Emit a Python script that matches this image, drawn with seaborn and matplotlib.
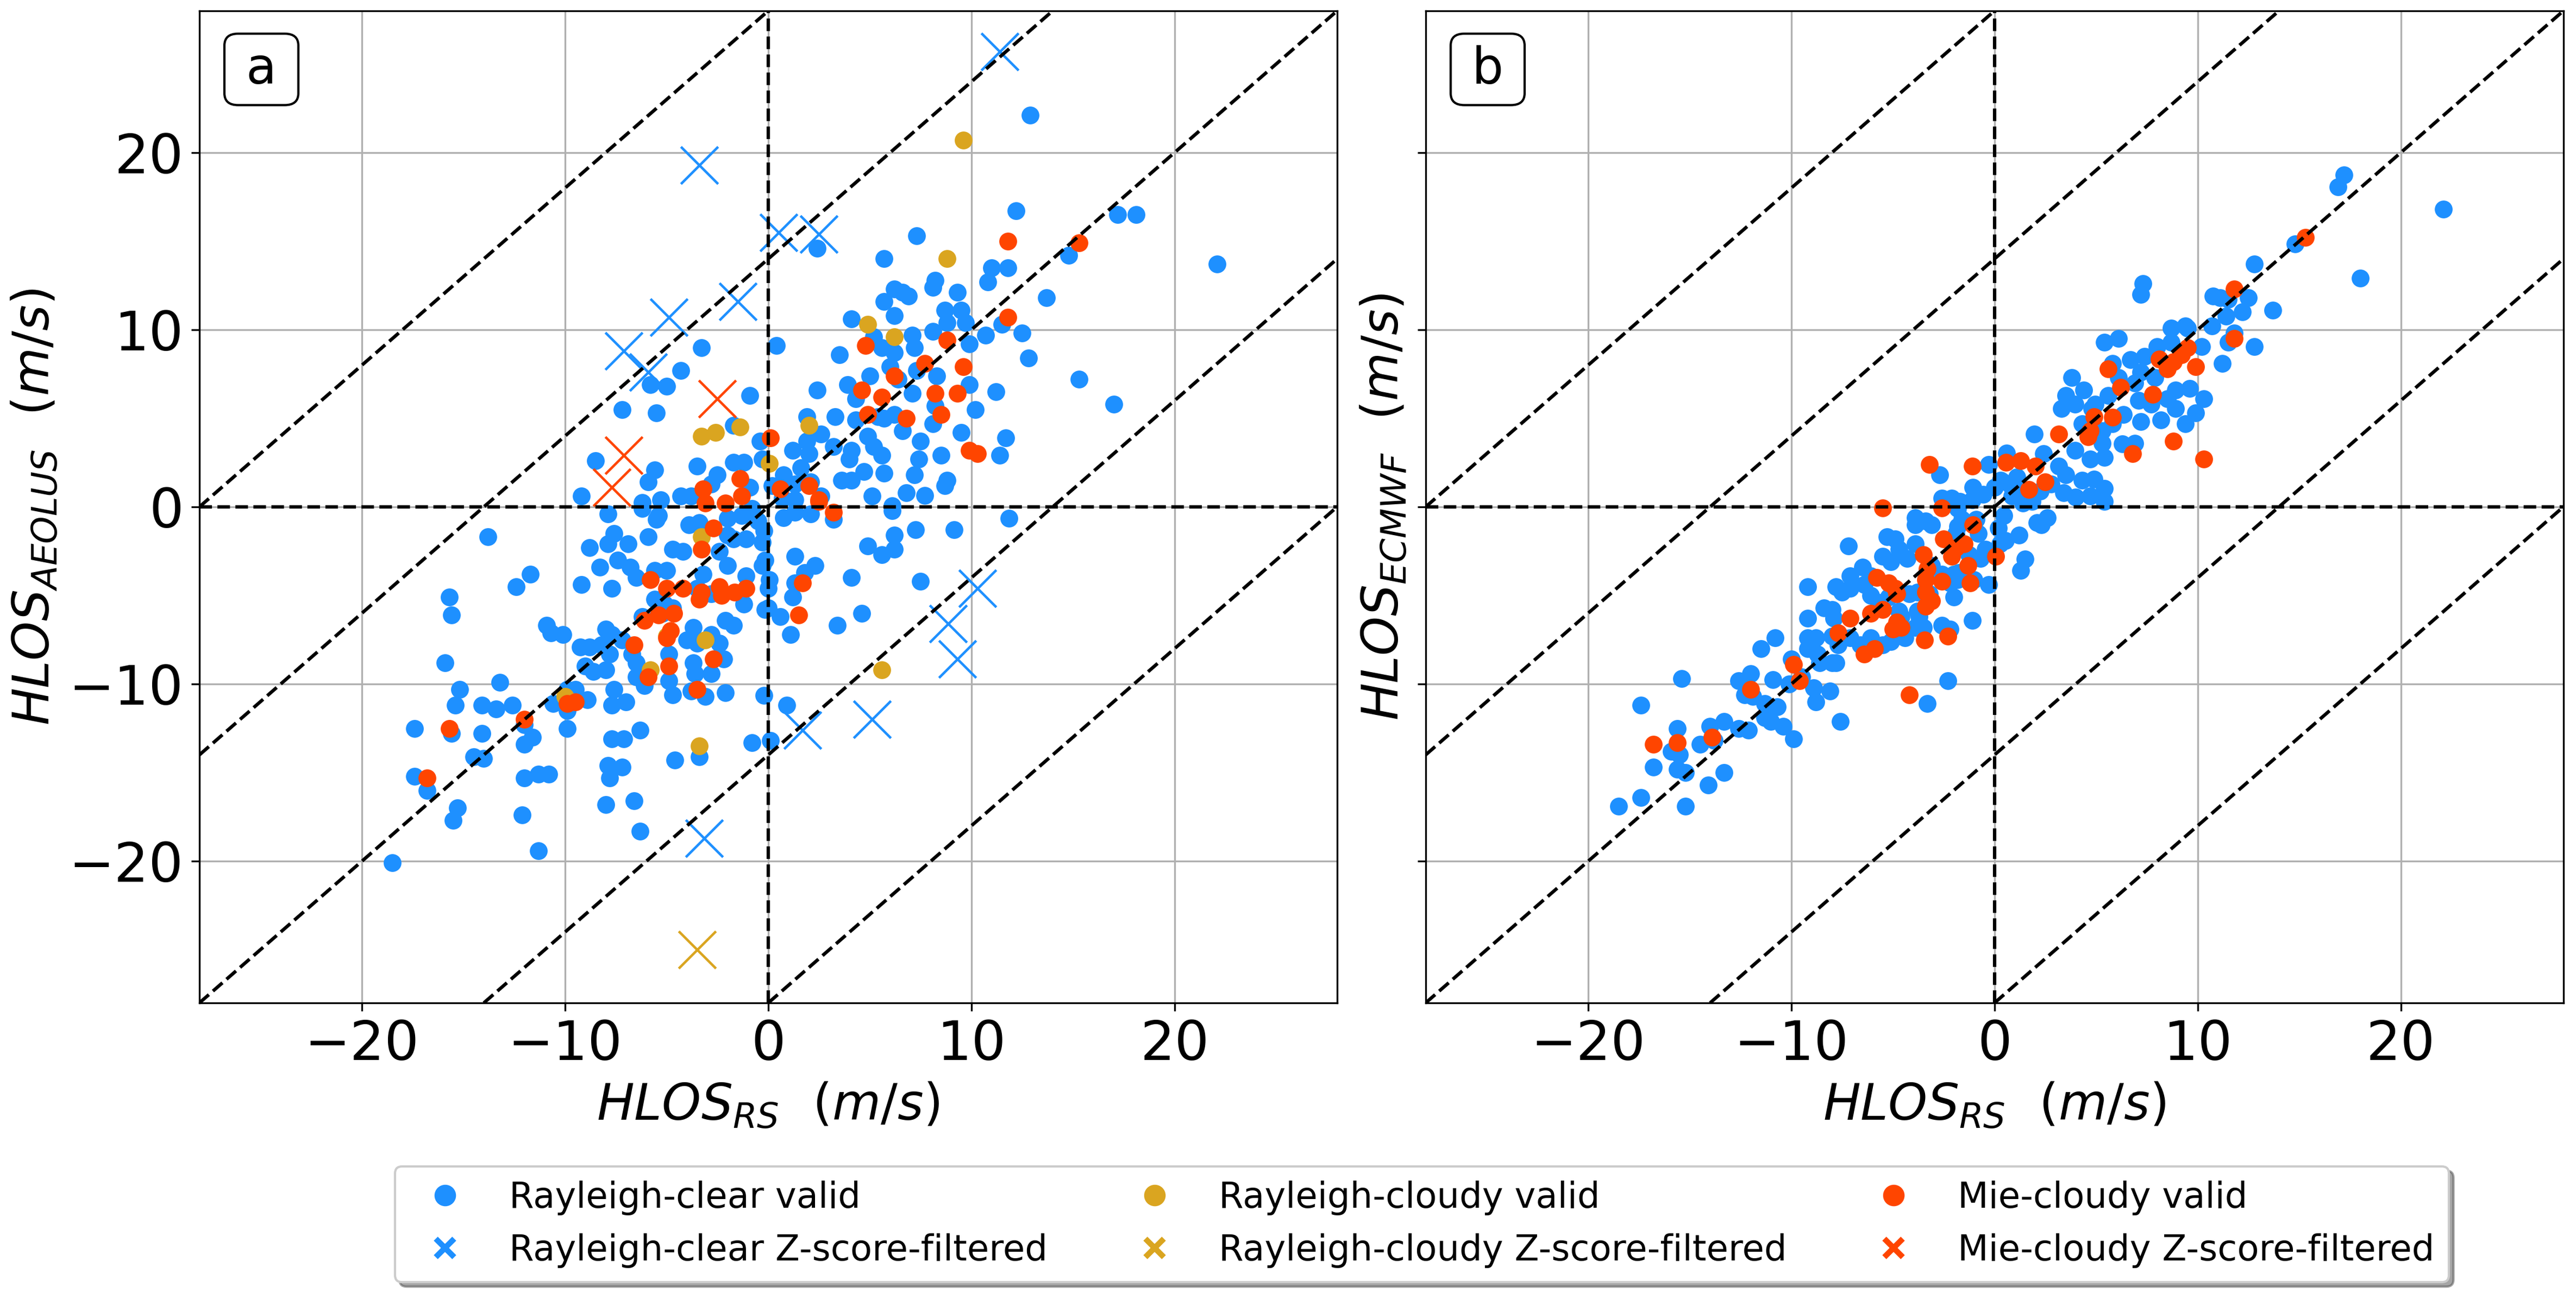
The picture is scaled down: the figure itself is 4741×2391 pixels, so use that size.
import numpy as np
import pandas as pd
import matplotlib
matplotlib.use("Agg")
import matplotlib.pyplot as plt
import matplotlib.patches as mpatches
from matplotlib.lines import Line2D
import seaborn as sns

# ---------------- data ----------------
# Panel a : HLOS_RS (x) vs HLOS_AEOLUS (y)
a_clear_valid = [
    (-3.3, 9.0), (0.4, 9.1), (-4.3, 7.7), (-5.8, 6.9), (-5.0, 6.8), (-0.9, 6.3), (-7.2, 5.5), (-5.5, 5.3),
    (-1.7, 4.6), (-0.4, 3.7), (-8.5, 2.6), (-3.5, 2.3), (-5.6, 2.1), (-5.9, 1.4), (-1.7, 2.5), (-1.2, 2.5),
    (-0.3, 2.7), (-9.2, 0.6), (-2.5, 1.8), (-2.8, 1.3), (-0.9, 1.1), (-4.3, 0.6), (-3.8, 0.6), (-6.2, 0.25),
    (-5.3, 0.4),
    (12.9, 22.1), (12.2, 16.7), (17.2, 16.5), (18.1, 16.5), (7.3, 15.3), (2.4, 14.6), (5.7, 14.0), (22.1, 13.7),
    (14.8, 14.2), (11.0, 13.5), (11.8, 13.5), (8.2, 12.8), (8.1, 12.4), (10.8, 12.7), (6.2, 12.3), (6.6, 12.1),
    (6.9, 11.9), (5.7, 11.6), (9.3, 12.1), (13.7, 11.8), (8.7, 11.1), (9.5, 11.1), (6.2, 10.8), (4.1, 10.6),
    (9.7, 10.4), (8.8, 10.4), (8.1, 9.9), (7.1, 9.7), (10.7, 9.7), (11.5, 10.3), (12.5, 9.8), (5.2, 9.6),
    (5.6, 9.0), (6.2, 8.7), (7.2, 9.0), (9.9, 9.2), (3.5, 8.6), (12.8, 8.4), (6.0, 7.9), (5.0, 7.4),
    (8.3, 7.4), (7.3, 7.7), (2.4, 6.6), (3.9, 6.9), (6.4, 7.2), (9.9, 6.9), (11.2, 6.5), (15.3, 7.2),
    (17.0, 5.8), (4.3, 6.1), (7.1, 6.4), (8.2, 5.7), (10.2, 5.5), (1.9, 5.1), (3.3, 5.1), (4.3, 4.9),
    (5.4, 5.1), (6.2, 5.2), (8.1, 4.7), (6.6, 4.3), (9.5, 4.2), (11.7, 3.9), (7.5, 3.7), (2.6, 4.1),
    (1.9, 3.7), (1.2, 3.2), (2.0, 3.0), (3.2, 3.4), (4.1, 3.2), (4.0, 2.7), (4.9, 4.0), (5.2, 3.4),
    (5.6, 2.9), (8.5, 2.9), (7.4, 2.7), (11.4, 2.9), (4.7, 2.0), (5.7, 1.9), (7.2, 1.8), (3.6, 1.5),
    (4.1, 1.5), (8.8, 1.5), (8.7, 1.2), (1.6, 2.2), (0.75, 1.8), (0.2, 1.2), (1.3, 1.3), (6.8, 0.8),
    (7.7, 0.65), (5.1, 0.6), (6.1, 0.07), (2.6, 0.6), (1.3, 0.4), (0.7, 0.5), (5.7, 5.0), (2.1, 1.4),
    (-13.8, -1.7), (-11.7, -3.8), (-12.4, -4.5), (-15.7, -5.1), (-15.6, -6.1), (-9.2, -4.4), (-8.3, -3.4),
    (-7.7, -4.6), (-8.8, -2.3), (-7.9, -2.1), (-7.6, -1.5), (-6.9, -2.1), (-5.9, -1.7), (-7.4, -3.0),
    (-6.8, -3.4), (-6.5, -4.0), (-5.6, -3.6), (-5.0, -3.6), (-4.7, -2.4), (-4.2, -2.5), (-3.9, -1.0),
    (-6.2, -0.1), (-5.4, -0.5), (-7.9, -0.4), (-2.0, -0.65), (-1.3, -0.5), (-0.5, -0.8), (-1.7, -1.8),
    (-1.1, -1.8), (-0.3, -3.3), (-0.15, -3.0), (-0.3, -2.0), (-2.0, -3.3), (-1.1, -3.9), (0.0, -4.6),
    (-3.2, -3.8), (-3.5, -4.6), (-2.8, -4.9), (-1.2, -5.5), (-0.15, -5.8), (0.6, -6.2), (1.1, -7.2),
    (1.3, -2.8), (1.3, -4.3), (-2.1, -6.4), (-1.7, -6.7), (-3.7, -6.8), (-4.0, -7.5), (-3.5, -7.7),
    (-2.8, -7.2), (-2.4, -7.7), (-5.1, -5.5), (-4.7, -5.7), (-5.2, -6.0), (-6.2, -6.2), (-10.9, -6.7),
    (-10.7, -7.1), (-10.1, -7.2), (-8.0, -6.9), (-7.7, -7.2), (-7.2, -7.5), (-9.25, -7.9), (-8.8, -7.9),
    (-8.2, -7.8), (-7.8, -8.3), (-6.7, -8.3), (-6.5, -8.8), (-9.0, -9.0), (-8.6, -9.3), (-8.0, -9.2),
    (-6.5, -9.6), (-6.1, -10.1), (-4.9, -8.3), (-4.9, -9.8), (-3.7, -8.8), (-3.6, -9.4), (-2.8, -9.4),
    (-2.2, -8.6), (-4.7, -10.6), (-3.8, -10.4), (-3.1, -10.7), (-2.1, -10.5), (-0.2, -10.65), (0.9, -11.2),
    (-7.6, -10.3), (-7.0, -11.0), (-7.7, -11.2), (-8.9, -10.9), (-9.9, -10.3), (-9.5, -10.3), (-10.6, -11.1),
    (-9.9, -11.5), (-9.9, -12.5), (-13.2, -9.9), (-15.2, -10.3), (-15.4, -11.2), (-14.1, -11.2),
    (-13.4, -11.4), (-12.6, -11.2), (-15.9, -8.8), (-17.4, -12.5), (-15.6, -12.8), (-14.1, -12.8),
    (-12.0, -12.3), (-11.6, -13.0), (-12.0, -13.4), (-14.5, -14.1), (-14.0, -14.2), (-17.4, -15.2),
    (-16.8, -16.0), (-15.3, -17.0), (-15.5, -17.7), (-12.0, -15.3), (-11.3, -15.1), (-10.8, -15.1),
    (-12.1, -17.4), (-11.3, -19.4), (-18.5, -20.1), (-7.7, -13.1), (-7.1, -13.1), (-6.3, -12.6),
    (-7.9, -14.6), (-7.8, -15.3), (-7.2, -14.7), (-8.0, -16.8), (-6.6, -16.6), (-6.3, -18.3),
    (-4.6, -14.3), (-3.4, -14.1), (-0.8, -13.3), (0.1, -13.2),
    (-0.2, -1.35), (-2.0, -1.6), (-2.4, -2.5), (-3.4, -0.9), (-0.8, -0.1), (0.05, -4.1), (-5.6, -5.2),
    (-5.5, -0.7),
    (11.85, -0.65), (7.25, -1.3), (9.15, -1.3), (6.2, -1.6), (6.2, -2.4), (5.6, -2.7), (4.9, -2.2),
    (6.1, -0.2), (3.2, -0.7), (2.1, -0.4), (1.3, -0.3), (0.75, -0.6), (2.3, -3.3), (1.8, -3.7),
    (4.1, -4.0), (7.5, -4.2), (1.2, -5.1), (0.0, -5.7), (3.4, -6.7), (4.6, -6.0),
]
a_clear_filtered = [
    (-3.4, 19.3), (0.5, 15.5), (-1.5, 11.6), (-4.9, 10.7), (-7.1, 8.8), (-5.9, 7.6), (11.4, 25.7),
    (2.5, 15.4), (-3.15, -18.7), (10.3, -4.6), (8.85, -6.6), (9.3, -8.6), (5.1, -12.0), (1.7, -12.6),
]
a_cloudy_valid = [
    (-3.3, 4.0), (-2.6, 4.2), (-1.4, 4.5), (0.05, 2.45), (9.6, 20.7), (8.8, 14.0), (4.9, 10.3), (6.2, 9.6),
    (2.0, 4.6), (-3.3, -1.7), (-3.1, -7.5), (-5.8, -9.2), (-10.0, -10.7), (-5.0, -7.3), (-3.4, -13.5),
    (5.6, -9.2),
]
a_cloudy_filtered = [(-3.5, -25.0)]
a_mie_valid = [
    (0.1, 3.9), (-1.4, 1.6), (-3.2, 1.0), (-1.3, 0.6), (0.6, 1.0), (-2.1, 0.2), (-3.1, 0.2),
    (11.8, 15.0), (15.3, 14.9), (11.8, 10.7), (4.8, 9.1), (8.8, 9.4), (7.7, 8.1), (9.6, 7.9), (6.2, 7.4),
    (4.6, 6.6), (5.6, 6.2), (8.2, 6.4), (9.3, 6.4), (4.9, 5.2), (6.8, 5.0), (8.5, 5.2), (9.9, 3.2),
    (10.3, 3.0), (2.0, 1.2), (2.5, 0.4),
    (-2.7, -1.2), (-3.3, -2.4), (-5.8, -4.1), (-5.0, -4.6), (-4.2, -4.6), (-3.3, -4.8), (-3.4, -5.2),
    (-2.4, -4.5), (-2.3, -5.0), (-1.65, -4.8), (-1.1, -4.6), (-6.1, -6.4), (-5.4, -6.1), (-4.65, -6.0),
    (-4.8, -7.0), (-5.0, -7.4), (-6.6, -7.8), (-2.7, -8.6), (-4.9, -9.0), (-5.9, -9.6), (-3.5, -10.3),
    (-9.9, -11.1), (-9.5, -11.0), (-12.0, -12.0), (-15.7, -12.5), (-16.8, -15.3), (1.5, -6.1),
    (1.7, -4.3), (2.5, 0.3), (3.2, -0.3),
]
a_mie_filtered = [(-2.5, 6.1), (-7.1, 2.9), (-7.7, 1.1)]

# Panel b : HLOS_RS (x) vs HLOS_ECMWF (y)
b_clear_valid = [
    (-18.5, -16.9), (-17.4, -16.4), (-15.2, -16.9), (-14.1, -15.7), (-13.3, -15.0), (-16.8, -14.7),
    (-15.6, -14.8), (-15.2, -15.0), (-15.9, -13.8), (-15.5, -14.0), (-15.6, -12.5), (-17.4, -11.2),
    (-15.4, -9.7), (-14.5, -13.4), (-13.8, -13.2), (-14.0, -12.4), (-13.3, -12.1), (-12.6, -12.5),
    (-12.1, -12.6), (-12.6, -9.8), (-12.0, -9.4), (-12.3, -10.6), (-11.9, -10.7), (-11.5, -8.0),
    (-10.8, -7.4), (-10.9, -9.75), (-11.3, -11.9), (-11.0, -12.1), (-10.7, -11.3), (-10.4, -12.4),
    (-9.9, -13.1), (-11.3, -11.1), (-10.0, -8.6), (-9.5, -9.6), (-10.1, -10.0), (-8.9, -10.2),
    (-8.1, -10.4), (-8.8, -11.0), (-7.6, -12.1), (-9.2, -7.4), (-8.8, -7.4), (-9.2, -8.0), (-9.2, -6.3),
    (-9.2, -4.5), (-8.7, -8.3), (-8.6, -8.8), (-8.0, -8.8), (-7.8, -8.8), (-8.4, -5.7), (-8.0, -5.8),
    (-7.9, -6.3), (-7.8, -4.5), (-7.5, -4.8), (-7.1, -4.6), (-7.1, -3.9), (-6.5, -3.4), (-6.1, -3.9),
    (-7.2, -2.2), (-8.0, -7.3), (-7.7, -7.8), (-7.1, -7.4), (-6.6, -7.8), (-6.1, -7.4), (-5.5, -7.8),
    (-5.1, -7.6), (-4.4, -7.4), (-4.7, -6.8), (-3.9, -6.8), (-3.5, -6.8), (-2.6, -6.7), (-2.2, -6.9),
    (-6.1, -5.0), (-5.7, -5.4), (-6.4, -4.4), (-5.2, -5.1), (-4.7, -5.9), (-3.8, -5.9), (-5.5, -2.8),
    (-5.1, -3.1), (-4.7, -2.4), (-4.3, -2.9), (-3.9, -2.1), (-5.3, -1.7), (-4.9, -1.8), (-3.9, -0.6),
    (-3.9, -1.0), (-3.4, -0.8), (-3.1, -1.0), (-2.7, 1.8), (-2.6, 0.5), (-2.1, 0.5), (-1.8, -1.1),
    (-1.8, -0.1), (-1.8, -4.1), (-2.0, -5.1), (-1.1, -6.4), (-2.3, -9.8), (-3.3, -11.1), (-3.1, -3.3),
    (-2.6, -3.8), (-2.2, -4.3), (-3.8, -4.8), (-3.2, -4.9), (-4.2, -4.9),
    (17.2, 18.75), (16.9, 18.05), (22.1, 16.8), (14.8, 14.85), (12.8, 13.7), (18.0, 12.9), (7.3, 12.6),
    (7.2, 12.0), (13.7, 11.1), (10.75, 11.9), (11.1, 11.8), (11.5, 11.7), (12.5, 11.8), (12.2, 11.0),
    (11.4, 10.75), (10.7, 10.2), (8.7, 10.1), (9.4, 10.2), (9.5, 10.1), (11.8, 9.8), (11.5, 9.3),
    (12.8, 9.05), (10.2, 9.05), (11.2, 8.1), (5.4, 9.3), (6.1, 9.5), (8.0, 9.05), (8.7, 9.3), (5.8, 8.1),
    (6.7, 8.3), (7.4, 8.5), (3.8, 7.3), (4.4, 6.6), (3.5, 6.3), (3.3, 5.55), (3.97, 5.8), (4.95, 5.8),
    (5.6, 6.3), (6.1, 7.3), (6.9, 7.0), (7.2, 7.6), (7.9, 7.3), (7.1, 6.0), (7.7, 5.8), (8.5, 6.1),
    (8.9, 6.6), (9.6, 6.7), (10.3, 6.1), (9.9, 5.3), (8.9, 5.55), (8.2, 4.9), (7.2, 4.8), (9.4, 4.7),
    (6.35, 5.2), (5.8, 4.7), (5.3, 4.3), (4.3, 4.7), (4.8, 5.55), (1.96, 4.1), (6.9, 3.6), (6.3, 3.55),
    (5.4, 2.8), (4.7, 2.7), (3.97, 3.2), (5.3, 3.6), (0.6, 3.05), (-0.3, 2.4), (2.4, 3.0), (3.15, 2.3),
    (3.5, 1.8), (2.8, 1.3), (4.3, 1.5), (4.9, 1.55), (5.4, 1.05), (5.4, 0.3), (4.7, 0.6), (4.0, 0.55),
    (2.25, 0.9), (1.85, 0.3), (1.4, 0.2), (0.87, 0.6), (0.38, 1.45), (1.1, 1.1), (-1.06, 1.1),
    (2.6, -0.6), (2.3, -1.0), (1.2, -1.6), (0.46, -0.5), (0.2, -1.2), (0.54, -1.9), (-0.9, -0.7),
    (-0.8, -1.5), (-0.45, -2.4), (1.5, -2.95), (1.3, -3.6), (-0.3, -4.4), (-1.7, 0.3), (-1.6, -0.7),
    (-1.9, -1.5), (-1.26, -2.7), (-1.75, -3.7), (0.3, 1.5), (0.8, 1.2), (2.1, -0.9), (0.26, -2.1),
    (-1.1, 0.4), (-0.55, 0.7), (0.0, 1.1), (1.1, 1.7), (3.4, 0.8), (-1.0, -4.1), (-0.7, -2.9),
    (-2.0, -3.8), (-4.6, -6.2), (-3.7, -6.2),
]
b_mie_valid = [
    (-16.8, -13.4), (-15.6, -13.3), (-13.9, -13.0), (-12.0, -10.3), (-9.9, -8.9), (-9.6, -9.8),
    (-7.7, -7.1), (-7.1, -6.3), (-6.4, -8.3), (-5.9, -8.0), (-6.1, -6.0), (-5.5, -5.8), (-4.8, -6.5),
    (-4.6, -6.8), (-5.0, -6.9), (-3.45, -7.5), (-2.3, -7.3), (-4.2, -10.6), (-5.8, -4.0), (-5.2, -4.3),
    (-4.9, -4.6), (-4.8, -4.9), (-3.5, -2.7), (-3.4, -4.1), (-3.4, -4.8), (-3.4, -5.6), (-3.1, -5.3),
    (-2.6, -4.2), (-2.5, -1.8), (-1.9, -2.3), (-1.5, -2.1), (-2.1, -2.8), (-5.5, -0.05), (-2.6, -0.05),
    (-3.2, 2.4), (-3.3, -3.5),
    (15.3, 15.2), (11.8, 12.3), (11.8, 9.5), (9.5, 9.0), (9.2, 8.6), (8.8, 8.2), (8.1, 8.35), (8.5, 7.8),
    (9.9, 7.9), (5.6, 7.8), (6.2, 6.75), (7.8, 6.35), (4.9, 5.1), (5.8, 5.05), (4.7, 4.3), (4.6, 3.95),
    (3.15, 4.1), (8.8, 3.7), (6.8, 3.0), (10.3, 2.7), (0.57, 2.5), (1.3, 2.6), (2.0, 2.3), (2.5, 1.4),
    (1.7, 0.97), (-1.1, 2.3), (-1.06, -1.0), (-1.3, -3.3), (0.05, -2.8), (-1.2, -4.3),
]

diag_offsets = [-28, -14, 0, 14, 28]
tick_values = [-20, -10, 0, 10, 20]
axis_limits = (-28, 28)

categories = ["Rayleigh-clear", "Rayleigh-cloudy", "Mie-cloudy"]
cat_colors = {"Rayleigh-clear": "#1E90FF", "Rayleigh-cloudy": "#DAA520", "Mie-cloudy": "#FF4500"}
legend_labels = [
    "Rayleigh-clear valid", "Rayleigh-clear Z-score-filtered",
    "Rayleigh-cloudy valid", "Rayleigh-cloudy Z-score-filtered",
    "Mie-cloudy valid", "Mie-cloudy Z-score-filtered",
]


def to_df(pairs):
    arr = np.array(pairs, dtype=float).reshape(-1, 2)
    return pd.DataFrame({"x": arr[:, 0], "y": arr[:, 1]})


panel_a = [
    ("Rayleigh-clear", a_clear_valid, a_clear_filtered),
    ("Rayleigh-cloudy", a_cloudy_valid, a_cloudy_filtered),
    ("Mie-cloudy", a_mie_valid, a_mie_filtered),
]
panel_b = [
    ("Rayleigh-clear", b_clear_valid, []),
    ("Rayleigh-cloudy", [], []),
    ("Mie-cloudy", b_mie_valid, []),
]

plt.rcParams["font.family"] = ["DejaVu Sans"]
plt.rcParams["mathtext.fontset"] = "dejavusans"

fig, axes = plt.subplots(1, 2, figsize=(4741 / 300, 2391 / 300), dpi=300, sharey=True)
fig.subplots_adjust(left=0.0774, right=0.9951, top=0.99164, bottom=0.22794, wspace=0.0778)

ylabels = [r"$HLOS_{AEOLUS}\ \ (m/s)$", r"$HLOS_{ECMWF}\ \ (m/s)$"]
letters = ["a", "b"]

for ax, panel, ylab, letter in zip(axes, [panel_a, panel_b], ylabels, letters):
    ax.set_axisbelow(True)
    ax.grid(True, color="#b0b0b0", lw=0.8, zorder=0)
    for cat, valid, filt in panel:
        col = cat_colors[cat]
        if len(valid):
            sns.scatterplot(data=to_df(valid), x="x", y="y", ax=ax, color=col, s=62,
                            linewidth=0, marker="o", zorder=2, legend=False)
        if len(filt):
            sns.scatterplot(data=to_df(filt), x="x", y="y", ax=ax, color=col, s=270,
                            linewidth=1.1, marker="x", zorder=2, legend=False)
    for k in diag_offsets:
        ax.axline((0, k), slope=1, ls="--", color="black", lw=1.5, zorder=3)
    ax.axhline(0, ls="--", color="black", lw=1.5, zorder=3)
    ax.axvline(0, ls="--", color="black", lw=1.5, zorder=3)
    ax.set_xlim(axis_limits)
    ax.set_ylim(axis_limits)
    ax.set_xticks(tick_values)
    ax.set_yticks(tick_values)
    ax.tick_params(labelsize=24)
    ax.set_xlabel(r"$HLOS_{RS}\ \ (m/s)$", fontsize=22)
    ax.set_ylabel(ylab, fontsize=22)
    ax.yaxis.label.set_visible(True)
    # panel letter box
    box = mpatches.FancyBboxPatch((0.022, 0.905), 0.065, 0.072, transform=ax.transAxes,
                                  boxstyle="round,pad=0,rounding_size=0.012",
                                  fc="white", ec="black", lw=1.0, zorder=5)
    ax.add_patch(box)
    ax.text(0.0545, 0.941, letter, transform=ax.transAxes, fontsize=22,
            ha="center", va="center", zorder=6)

axes[1].tick_params(labelleft=False)

handles = []
for cat in categories:
    c = cat_colors[cat]
    handles.append(Line2D([0], [0], ls="none", marker="o", markersize=8.5,
                          markerfacecolor=c, markeredgecolor=c))
    handles.append(Line2D([0], [0], ls="none", marker="x", markersize=8,
                          markeredgewidth=2.5, color=c))
fig.legend(handles, legend_labels, loc="lower center", bbox_to_anchor=(0.552, 0.013),
           borderaxespad=0, ncol=3, fontsize=15.75, shadow=True, fancybox=True, frameon=True)

fig.savefig("out.png", dpi=300)
